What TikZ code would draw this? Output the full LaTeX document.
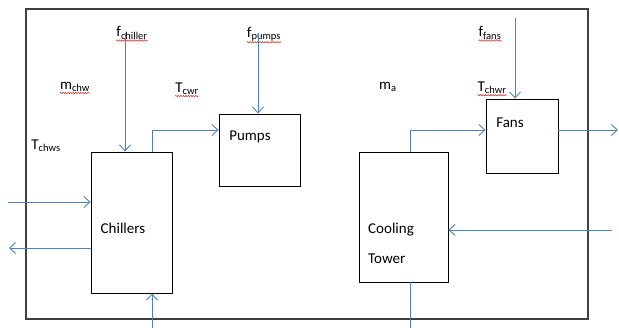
\documentclass[tikz,border=0pt]{standalone}
\usepackage{fontspec}
\setmainfont{Carlito}
\usetikzlibrary{arrows.meta,positioning,decorations.pathmorphing}
\definecolor{flowblue}{RGB}{79,129,189}
\definecolor{spellred}{RGB}{225,40,40}

\begin{document}
\begin{tikzpicture}[x=1pt,y=-1pt,
    unit/.style={draw=black, line width=0.9pt, inner sep=0pt},
    flow/.style={flowblue, line width=0.9pt, -{Straight Barb[length=6pt,width=11pt]}},
    lbl/.style={font=\fontsize{15}{18}\selectfont, inner sep=0pt},
    squig/.style={spellred, line width=0.5pt, decorate,
      decoration={snake, segment length=2.5pt, amplitude=0.7pt}}]
    \useasboundingbox (0,0) rectangle (619,328);
    % outer frame
    \draw[line width=1.3pt, black!75] (26,9) rectangle (588,319);
    % the four units
    \node[unit, minimum width=81pt, minimum height=141pt] (chil) at (131.5,222.5) {};
    \node[unit, minimum width=81pt, minimum height=72pt] (pump) at (259.5,150) {};
    \node[unit, minimum width=89pt, minimum height=130pt] (tower) at (403.5,217) {};
    \node[unit, minimum width=72pt, minimum height=74pt] (fans) at (522,136) {};
    \node[lbl] (chiltxt) at (123,228) {Chillers};
    \node[lbl] (pumptxt) at (250,137) {Pumps};
    \node[lbl] (fanstxt) at (510,123) {Fans};
    \node[lbl, font=\fontsize{15}{30}\selectfont, align=left, anchor=west] (towertxt) at (368,243) {Cooling\\Tower};
    % variable names (red underlines = spell check marks)
    \node[lbl] (fch) at (132,33) {f\textsubscript{chiller}};
    \node[lbl] (fpu) at (264,34) {f\textsubscript{pumps}};
    \node[lbl] (mchw) at (75,87) {m\textsubscript{chw}};
    \node[lbl] (tchws) at (46,146) {T\textsubscript{chws}};
    \node[lbl] (tcwr) at (187,89) {T\textsubscript{cwr}};
    \node[lbl] (ma) at (388,87) {m\textsubscript{a}};
    \node[lbl] (ffa) at (490,33) {f\textsubscript{fans}};
    \node[lbl] (tchwr) at (492,88) {T\textsubscript{chwr}};
    \foreach \v in {fch,fpu,mchw,tcwr,ffa,tchwr}
      \draw[squig] ([yshift=-1pt]\v.south west) -- ([yshift=-1pt]\v.south east);
    % control inputs from above
    \coordinate (fchin) at (125,33);
    \coordinate (fpuin) at (258,33);
    \coordinate (ffain) at (515,18);
    \draw[flow] (fchin) -- (fchin |- chil.north);
    \draw[flow] (fpuin) -- (fpuin |- pump.north);
    \draw[flow] (ffain) -- (ffain |- fans.north);
    % chillers -> pumps, tower -> fans
    \draw[flow] ([xshift=20.5pt]chil.north) |- ([yshift=20pt]pump.west);
    \draw[flow] ([xshift=6.5pt]tower.north) |- ([yshift=6pt]fans.west);
    \coordinate (fansout) at (618,130);
    \draw[flow] ([yshift=6pt]fans.east) -- (fansout);
    % chilled water in/out on the left
    \coordinate (chwin) at (8,202);
    \coordinate (chwout) at (9,248);
    \draw[flow] (chwin) -- (chwin -| chil.west);
    \draw[flow] (chwout -| chil.west) -- (chwout);
    % condenser water
    \coordinate (cwin) at (152,328);
    \draw[flow] (cwin) -- (cwin |- chil.south);
    \coordinate (towin) at (612,230);
    \draw[flow] (towin) -- (towin -| tower.east);
    \coordinate (towout) at (410,328);
    \draw[flowblue, line width=0.9pt] (towout |- tower.south) -- (towout);
\end{tikzpicture}
\end{document}
